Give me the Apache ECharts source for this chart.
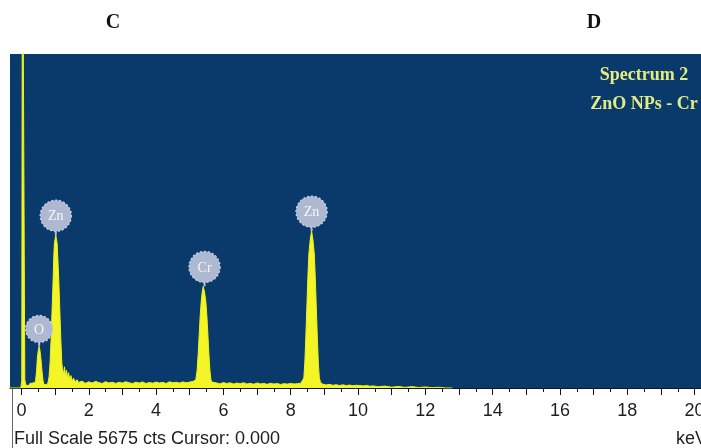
<!DOCTYPE html>
<html>
<head>
<meta charset="utf-8">
<title>EDS spectrum – ZnO NPs - Cr</title>
<script src="https://cdn.jsdelivr.net/npm/echarts@6/dist/echarts.min.js"></script>
<style>
  html, body { margin: 0; padding: 0; background: #ffffff; }
  #chart { width: 701px; height: 448px; }
</style>
</head>
<body>
<div id="chart"></div>
<script>
// Energy axis (keV) and measured counts of the EDS spectrum
const energyKeV = [
  -0.34, -0.02, 0.01, 0.03, 0.08, 0.10, 0.13, 0.17, 0.21, 0.25, 0.29, 0.33, 0.37,
  0.40, 0.42, 0.45, 0.47, 0.50, 0.525, 0.55, 0.58, 0.61, 0.64, 0.67, 0.71, 0.75, 0.79,
  0.82, 0.85, 0.88, 0.91, 0.94, 0.96, 0.98, 1.02, 1.06, 1.08, 1.11, 1.14, 1.17, 1.20,
  1.22, 1.25, 1.28, 1.31, 1.34, 1.37, 1.40, 1.43, 1.47, 1.51, 1.55, 1.60, 1.65, 1.70,
  1.8, 1.9, 2.0, 2.1, 2.2, 2.3, 2.4, 2.5, 2.6, 2.7, 2.8, 2.9, 3.0, 3.1, 3.2, 3.3, 3.4,
  3.5, 3.6, 3.7, 3.8, 3.9, 4.0, 4.1, 4.2, 4.3, 4.4, 4.5, 4.6, 4.7, 4.8, 4.9, 5.0, 5.1,
  5.18, 5.22, 5.25, 5.28, 5.31, 5.34, 5.37, 5.40, 5.44, 5.48, 5.51, 5.54, 5.57, 5.60,
  5.63, 5.66, 5.70,
  5.8, 5.9, 6.0, 6.1, 6.2, 6.3, 6.4, 6.5, 6.6, 6.7, 6.8, 6.9, 7.0, 7.1, 7.2, 7.3, 7.4,
  7.5, 7.6, 7.7, 7.8, 7.9, 8.0, 8.1, 8.2, 8.3,
  8.35, 8.39, 8.42, 8.45, 8.48, 8.51, 8.54, 8.58, 8.62, 8.66, 8.70, 8.73, 8.76, 8.79,
  8.82, 8.85, 8.89,
  8.95, 9.05, 9.15, 9.25, 9.35, 9.45, 9.55, 9.65, 9.75, 9.85, 9.95, 10.05, 10.15,
  10.25, 10.35, 10.45, 10.6, 10.8, 11.0, 11.2, 11.4, 11.6, 11.8, 12.0, 12.2, 12.4,
  12.6, 12.8
];
const counts = [
  0, 0, 120, 9000, 9000, 140, 50, 70, 40, 75, 50, 85, 65,
  90, 130, 290, 490, 640, 704, 640, 490, 290, 130, 60, 85, 55, 95,
  190, 420, 820, 1320, 1820, 2220, 2460, 2596, 2460, 2220, 1820, 1320, 820, 420,
  330, 230, 360, 210, 300, 170, 260, 150, 210, 120, 165, 100, 140, 95,
  115, 80, 105, 85, 112, 92, 76, 108, 86, 98, 78, 96, 84, 106, 88, 76, 98,
  84, 104, 76, 94, 82, 100, 86, 96, 76, 106, 88, 98, 84, 104, 90, 100, 112,
  140, 300, 570, 900, 1220, 1460, 1630, 1726, 1630, 1460, 1220, 900, 570, 300,
  140, 100, 90,
  86, 70, 92, 76, 88, 68, 84, 74, 90, 68, 80, 64, 86, 70, 78, 62, 80,
  68, 76, 60, 74, 66, 78, 68, 74, 80,
  95, 170, 440, 880, 1380, 1880, 2280, 2520, 2664, 2520, 2280, 1880, 1380, 880,
  440, 170, 90,
  66, 52, 62, 46, 56, 42, 54, 40, 50, 38, 46, 42, 34,
  44, 30, 36, 22, 32, 14, 26, 10, 24, 8, 18, 5, 12,
  0, 0
];

// Element markers placed on the peak maxima
const peakLabels = ['O', 'Zn', 'Cr', 'Zn'];
const peakEnergy = [0.525, 1.02, 5.44, 8.62];
const peakCounts = [704, 2596, 1726, 2664];

// Axis tick values (keV)
const xTickLabels = [0, 2, 4, 6, 8, 10, 12, 14, 16, 18, 20];
const xMajorTicks = [0, 1, 2, 3, 4, 5, 6, 7, 8, 9, 10, 11, 12, 13, 14, 15, 16, 17, 18, 19, 20];
const xMinorTicks = [0.5, 1.5, 2.5, 3.5, 4.5, 5.5, 6.5, 7.5, 8.5, 9.5, 10.5, 11.5, 12.5,
                     13.5, 14.5, 15.5, 16.5, 17.5, 18.5, 19.5];

const fullScale = 5675;
const headerTexts = ['Spectrum 2', 'ZnO NPs - Cr'];

const spectrum = energyKeV.map((e, i) => [e, counts[i]]);
const peaks = peakEnergy.map((e, i) => [e, peakCounts[i], peakLabels[i]]);

const X_MIN = -0.34, X_MAX = 20.19;

const chart = echarts.init(document.getElementById('chart'), null, { renderer: 'canvas' });

chart.setOption({
  animation: false,
  backgroundColor: '#ffffff',
  grid: {
    left: 10, right: 0, top: 54, bottom: 60,
    containLabel: false, outerBoundsMode: 'none',
    show: true, backgroundColor: '#0a3a6c', borderWidth: 0
  },
  xAxis: [
    {
      type: 'value', min: X_MIN, max: X_MAX,
      axisLine: { show: true, onZero: false, lineStyle: { color: '#151515', width: 1 } },
      axisTick: { show: true, customValues: xMajorTicks, length: 7, lineStyle: { color: '#151515', width: 1 } },
      axisLabel: {
        customValues: xTickLabels, margin: 14, hideOverlap: false,
        fontFamily: 'Liberation Sans, Arial, sans-serif', fontSize: 18, color: '#1e1e1e'
      },
      splitLine: { show: false }
    },
    {
      type: 'value', min: X_MIN, max: X_MAX, position: 'bottom',
      axisLine: { show: false },
      axisTick: { show: true, customValues: xMinorTicks, length: 4, lineStyle: { color: '#151515', width: 1 } },
      axisLabel: { show: false },
      splitLine: { show: false }
    }
  ],
  yAxis: {
    type: 'value', min: 0, max: fullScale,
    show: false, splitLine: { show: false }
  },
  series: [
    {
      type: 'line',
      xAxisIndex: 0,
      data: spectrum,
      showSymbol: false,
      clip: true,
      lineStyle: { color: '#eef21a', width: 1 },
      areaStyle: { color: '#f4f526', opacity: 1 },
      z: 2
    },
    {
      type: 'custom',
      xAxisIndex: 0,
      data: peaks,
      clip: false,
      z: 5,
      renderItem: function (params, api) {
        const p = api.coord([api.value(0), api.value(1)]);
        const label = peakLabels[params.dataIndex];
        const r = label.length > 1 ? 15.5 : 13.5;
        const cy = p[1] - 4 - r;
        return {
          type: 'group',
          children: [
            { type: 'line', shape: { x1: p[0], y1: p[1], x2: p[0], y2: cy + r - 1 },
              style: { stroke: '#b3bed6', lineWidth: 2 } },
            { type: 'circle', shape: { cx: p[0], cy: cy, r: r },
              style: { fill: '#aeb9d1', stroke: '#c3cce0', lineWidth: 1.5, lineDash: [2, 2] } },
            { type: 'text', x: p[0], y: cy + 1,
              style: { text: label, fill: '#f4f6fb', font: '14px "Liberation Serif", serif',
                       align: 'center', verticalAlign: 'middle' } }
          ]
        };
      }
    }
  ],
  graphic: [
    { type: 'text', x: 113, y: 23,
      style: { text: 'C', font: 'bold 20px "Liberation Serif", serif', fill: '#111111',
               align: 'center', verticalAlign: 'middle' } },
    { type: 'text', x: 594, y: 23,
      style: { text: 'D', font: 'bold 20px "Liberation Serif", serif', fill: '#111111',
               align: 'center', verticalAlign: 'middle' } },
    { type: 'text', x: 644, y: 75,
      style: { text: headerTexts[0], font: 'bold 18px "Liberation Serif", serif', fill: '#e3ec80',
               align: 'center', verticalAlign: 'middle' } },
    { type: 'text', x: 644, y: 104,
      style: { text: headerTexts[1], font: 'bold 18px "Liberation Serif", serif', fill: '#e3ec80',
               align: 'center', verticalAlign: 'middle' } },
    { type: 'text', x: 14, y: 439,
      style: { text: 'Full Scale ' + fullScale + ' cts Cursor: 0.000',
               font: '18px "Liberation Sans", Arial, sans-serif', fill: '#1e1e1e',
               verticalAlign: 'middle' } },
    { type: 'text', x: 676, y: 439,
      style: { text: 'keV', font: '18px "Liberation Sans", Arial, sans-serif', fill: '#1e1e1e',
               verticalAlign: 'middle' } },
    { type: 'line', shape: { x1: 12.5, y1: 388, x2: 12.5, y2: 448 },
      style: { stroke: '#666666', lineWidth: 1 } }
  ]
});
</script>
</body>
</html>
